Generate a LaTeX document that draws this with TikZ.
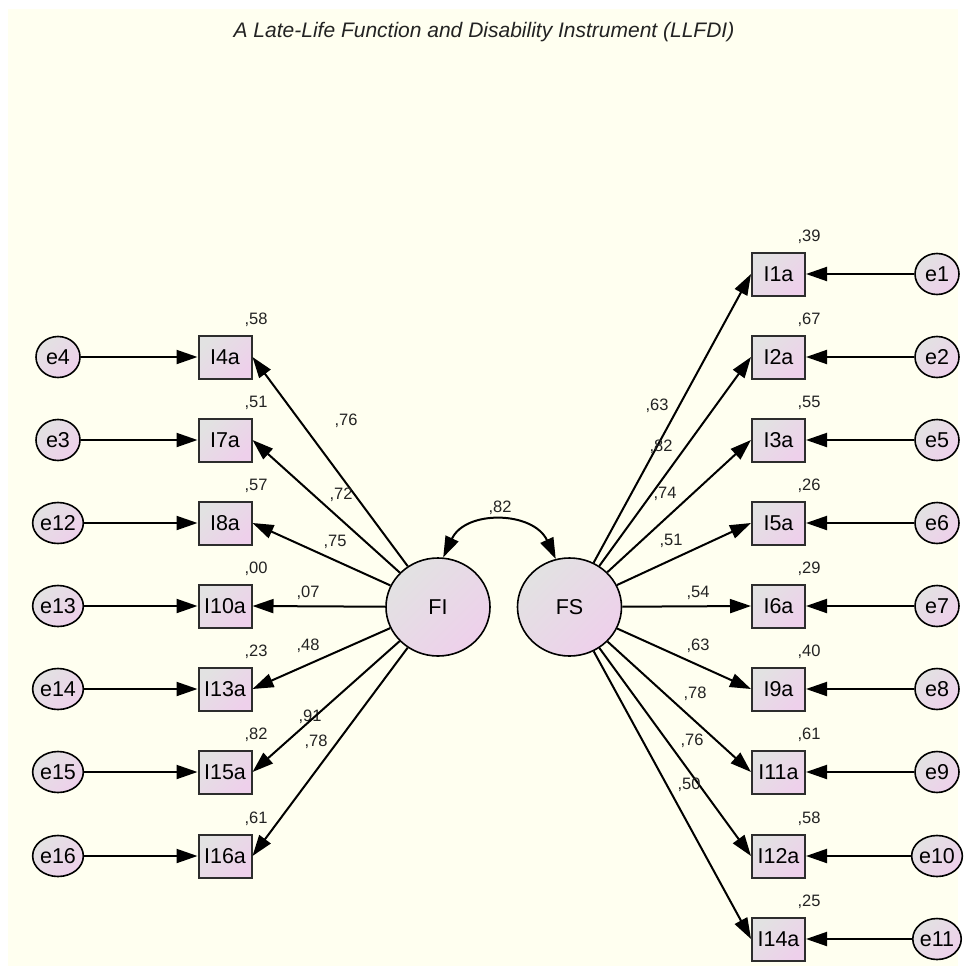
\documentclass[tikz,border=0pt]{standalone}
\usepackage{fontspec}
\setmainfont{Liberation Sans}
\usetikzlibrary{arrows.meta,shapes.geometric}
\definecolor{bgc}{RGB}{255,255,240}
\definecolor{ca}{RGB}{226,226,226}
\definecolor{cb}{RGB}{238,208,235}
\definecolor{boxline}{RGB}{45,45,45}
\definecolor{txt}{RGB}{35,35,35}
\tikzset{
  obs/.style={draw=boxline, line width=2bp, minimum width=53bp, minimum height=43bp, inner sep=0pt,
    top color=ca, bottom color=cb, shading angle=45, font=\fontsize{21.5bp}{21.5bp}\selectfont},
  err/.style={ellipse, draw=black, line width=1.6bp, minimum width=44bp, minimum height=41bp, inner sep=0pt,
    top color=ca, bottom color=cb, shading angle=45, font=\fontsize{21.5bp}{21.5bp}\selectfont},
  lat/.style={ellipse, draw=black, line width=1.6bp, minimum width=104bp, minimum height=98bp, inner sep=0pt,
    top color=ca, bottom color=cb, shading angle=45, font=\fontsize{21.5bp}{21.5bp}\selectfont},
  lbl/.style={font=\fontsize{16.5bp}{16.5bp}\selectfont, text=txt, inner sep=0pt},
  pth/.style={line width=2bp, -{Triangle[length=21bp,width=14bp]}},
}
\begin{document}
\begin{tikzpicture}[x=1bp,y=1bp]
\useasboundingbox (0,0) rectangle (966,-974);
\fill[white] (0,0) rectangle (966,-974);
\fill[bgc] (8,-9) rectangle (958,-966);
\node[font=\fontsize{21bp}{21bp}\selectfont\itshape, text=txt] (title) at (484,-32) {A Late-Life Function and Disability Instrument (LLFDI)};

\node[lat] (FI) at (438,-607) {FI};
\node[lat] (FS) at (569.5,-607) {FS};
\draw[line width=2bp, {Triangle[length=21bp,width=14bp]}-{Triangle[length=21bp,width=14bp]}]
  (FI.84) to[out=65,in=115,looseness=1.2] (FS.106);
\node[lbl] (cov) at (500,-508) {,82};

% left side
\foreach \n/\e/\y/\sq/\pv/\px/\py in {
  I4a/e4/357/{,58}/{,76}/346/421,
  I7a/e3/440/{,51}/{,72}/341/495,
  I8a/e12/523/{,57}/{,75}/335/542,
  I10a/e13/606/{,00}/{,07}/308/593,
  I13a/e14/689/{,23}/{,48}/308/646,
  I15a/e15/772/{,82}/{,91}/310/717,
  I16a/e16/856/{,61}/{,78}/316/742}{
  \node[obs] (\n) at (225,-\y) {\n};
  \node[err] (\e) at (58,-\y) {\e};
  \node[lbl] (sq\n) at (256,{-\y+37.5}) {\sq};
  \node[lbl] (pl\n) at (\px,-\py) {\pv};
  \draw[pth] (\e) -- (\n);
  \draw[pth] (FI) -- (\n.east);
}

% right side
\foreach \n/\e/\y/\sq/\pv/\px/\py in {
  I1a/e1/274/{,39}/{,63}/657/406,
  I2a/e2/357/{,67}/{,82}/661/447,
  I3a/e5/440/{,55}/{,74}/665/494,
  I5a/e6/523/{,26}/{,51}/671/541,
  I6a/e7/606/{,29}/{,54}/698/593,
  I9a/e8/689/{,40}/{,63}/698/646,
  I11a/e9/772/{,61}/{,78}/695/694,
  I12a/e10/856/{,58}/{,76}/692/741,
  I14a/e11/939/{,25}/{,50}/689/785}{
  \node[obs] (\n) at (778.5,-\y) {\n};
  \node[err] (\e) at (937,-\y) {\e};
  \node[lbl] (sq\n) at (809,{-\y+37.5}) {\sq};
  \node[lbl] (pl\n) at (\px,-\py) {\pv};
  \draw[pth] (\e) -- (\n);
  \draw[pth] (FS) -- (\n.west);
}
\end{tikzpicture}
\end{document}
